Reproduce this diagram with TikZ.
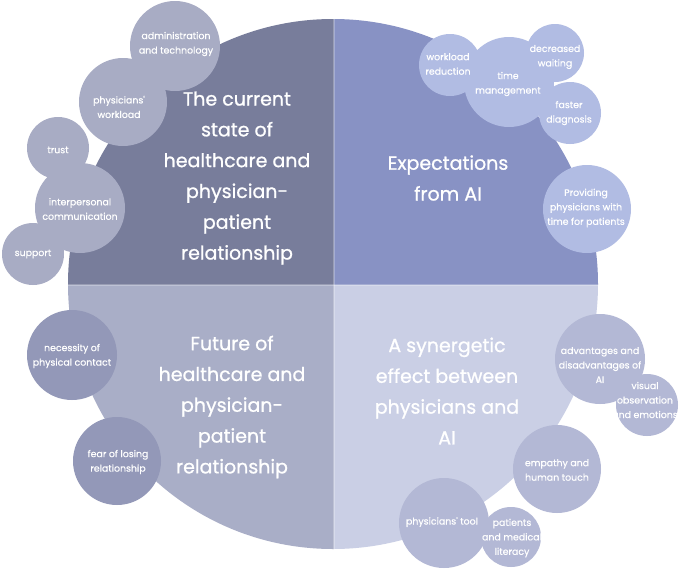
\documentclass[tikz,border=0pt]{standalone}
\usepackage{fontspec}
\setmainfont{Poppins}
\newfontfamily\ttlfont[FakeBold=0.9]{Poppins}
\newfontfamily\lblfont[FakeBold=0.6]{Poppins}
\definecolor{qtl}{HTML}{787D9B}
\definecolor{qtr}{HTML}{8892C4}
\definecolor{qbl}{HTML}{A9AEC7}
\definecolor{qbr}{HTML}{CACFE5}
\definecolor{ctl}{HTML}{A8ACC4}
\definecolor{ctr}{HTML}{B1BCE3}
\definecolor{cbl}{HTML}{9398B8}
\definecolor{cbr}{HTML}{B3B8D5}
\begin{document}
\begin{tikzpicture}[x=1pt,y=-1pt,
  bub/.style={circle,inner sep=0pt,minimum size=#1},
  lbl/.style={text=white,align=center,font=\lblfont\fontsize{9.4}{14.5}\selectfont,inner sep=0pt},
  ttl/.style={text=white,align=center,font=\ttlfont\fontsize{19}{30.8}\selectfont,inner sep=0pt}]
\useasboundingbox (0,0) rectangle (680,570);
\fill[white] (0,0) rectangle (680,570);
% big circle quadrants
\begin{scope}
\clip (333,284) circle[radius=265pt];
\fill[qtl] (0,0) rectangle (334,285);
\fill[qtr] (334,0) rectangle (680,285);
\fill[qbl] (0,285) rectangle (334,570);
\fill[qbr] (334,285) rectangle (680,570);
\draw[white,opacity=0.25,line width=1.2pt] (334,0) -- (334,570);
\draw[white,opacity=0.25,line width=1.2pt] (0,285) -- (680,285);
\end{scope}
\coordinate (cc) at (333,284);
% titles
\node[ttl] (t1) at (237,178) {The current\\state of\\healthcare and\\physician-\\patient\\relationship};
\node[ttl] (t2) at (448,178) {Expectations\\from AI};
\node[ttl] (t3) at (232,407) {Future of\\healthcare and\\physician-\\patient\\relationship};
\node[ttl] (t4) at (447,391) {A synergetic\\effect between\\physicians and\\AI};
% TL bubbles
\node[bub=90pt,fill=ctl] (a1) at (175,46) {};
\node[bub=88pt,fill=ctl] (a2) at (123,102) {};
\node[bub=62pt,fill=ctl] (a3) at (58,148) {};
\node[bub=90pt,fill=ctl] (a4) at (80,208) {};
\node[bub=62pt,fill=ctl] (a5) at (33,254) {};
\node[lbl] at (176,44) {administration\\and technology};
\node[lbl] at (119,107) {physicians'\\workload};
\node[lbl] at (58,150) {trust};
\node[lbl] at (80,209) {interpersonal\\communication};
\node[lbl] at (33,254) {support};
% TR bubbles
\node[bub=62pt,fill=ctr] (b1) at (450,65) {};
\node[bub=90pt,fill=ctr] (b2) at (509,82) {};
\node[bub=58pt,fill=ctr] (b3) at (555,53) {};
\node[bub=62pt,fill=ctr] (b4) at (570,113) {};
\node[bub=88pt,fill=ctr] (b5) at (587,209) {};
\node[lbl] at (448,64) {workload\\reduction};
\node[lbl] at (508,84) {time\\management};
\node[lbl] at (555,57) {decreased\\waiting};
\node[lbl] at (569,113) {faster\\diagnosis};
\node[lbl] at (586,208) {Providing\\physicians with\\time for patients};
% BL bubbles
\node[bub=90pt,fill=cbl] (c1) at (72,355) {};
\node[bub=88pt,fill=cbl] (c2) at (117,461) {};
\node[lbl] at (72,356) {necessity of\\physical contact};
\node[lbl] at (118,462) {fear of losing\\relationship};
% BR bubbles
\node[bub=90pt,fill=cbr] (d1) at (600,359) {};
\node[bub=62pt,fill=cbr] (d2) at (647,405) {};
\node[bub=88pt,fill=cbr] (d3) at (557,469) {};
\node[bub=90pt,fill=cbr] (d4) at (444,523) {};
\node[bub=60pt,fill=cbr] (d5) at (511,537) {};
\node[lbl] at (600,365) {advantages and\\disadvantages of\\AI};
\node[lbl] at (645,400) {visual\\observation\\and emotions};
\node[lbl] at (557,470) {empathy and\\human touch};
\node[lbl] at (442,522) {physicians' tool};
\node[lbl] at (512,538) {patients\\and medical\\literacy};
\end{tikzpicture}
\end{document}
